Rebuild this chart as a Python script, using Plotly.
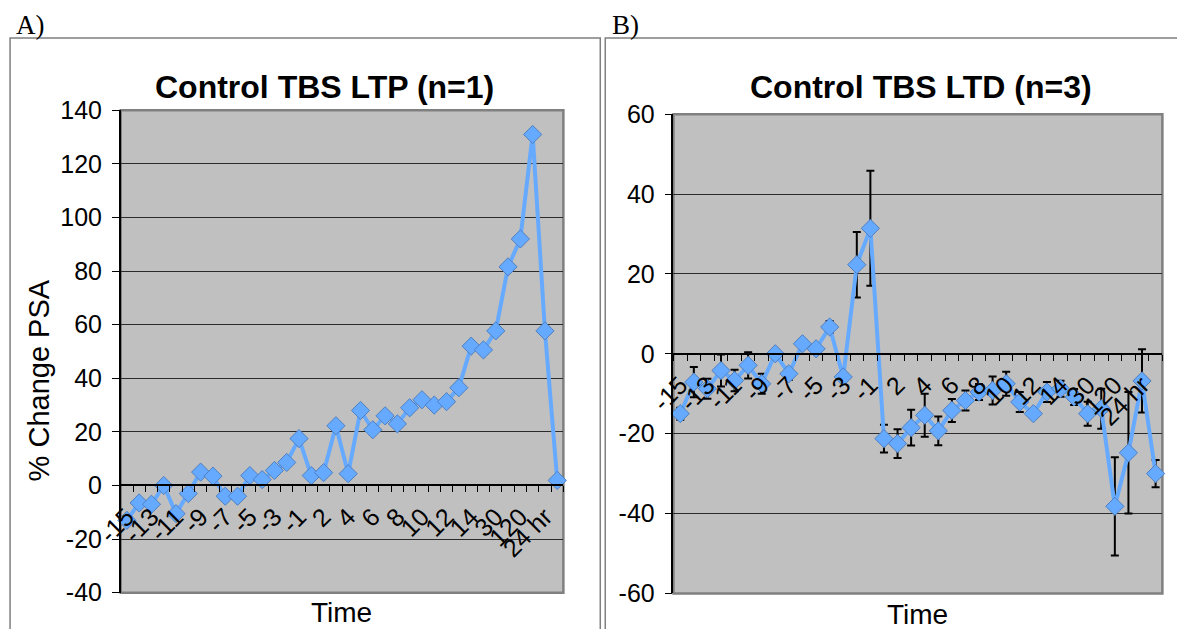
import plotly.graph_objects as go

W, H = 1177, 629

# ---- data ----
categories = ["-15", "-14", "-13", "-12", "-11", "-10", "-9", "-8", "-7", "-6", "-5", "-4", "-3", "-2", "-1",
              "1", "2", "3", "4", "5", "6", "7", "8", "9", "10", "11", "12", "13", "14", "15",
              "30", "60", "120", "180", "24 hr", "48 hr"]

ltp_values = [-13, -6.5, -7, 0, -10.5, -3, 5, 3.5, -4, -4, 3.7, 2.2, 5.6, 8.6, 17.5, 3.7, 4.8, 22.3,
              4.4, 28, 20.8, 26, 23, 29, 32, 30, 31.3, 36.5, 52, 50.6, 57.7, 81.6, 92, 131, 57.7, 1.9]

ltd_values = [-15.0, -7.1, -8.75, -4.2, -6.7, -2.9, -7.5, 0.0, -5.0, 2.5, 1.25, 6.7, -5.8, 22.3, 31.4,
              -21.25, -22.5, -18.5, -15.4, -19.3, -14.2, -11.7, -9.6, -9.2, -7.5, -12.1, -15.0, -9.6,
              -8.75, -10.8, -15.0, -13.75, -38.2, -24.8, -6.8, -30.0]

ltd_errors = [1.5, 3.8, 2.5, 4.0, 2.7, 3.3, 2.5, 1.0, 1.5, 1.0, 1.0, 1.5, 1.0, 8.2, 14.4,
              3.5, 3.6, 4.5, 5.4, 3.6, 2.9, 2.5, 2.0, 3.5, 3.0, 2.5, 1.0, 2.5, 2.0, 2.0,
              3.0, 5.0, 12.3, 15.2, 7.9, 3.4]

ltp_yticks = [-40, -20, 0, 20, 40, 60, 80, 100, 120, 140]
ltd_yticks = [-60, -40, -20, 0, 20, 40, 60]

titles = ["Control TBS LTP (n=1)", "Control TBS LTD (n=3)"]
y_title = "% Change PSA"
x_title = "Time"

# ---- layout helpers: target screen pixel -> paper fraction ----
def px(p):
    return ((p - 22) / 0.98) / W

def py(p):
    return 1 - ((p - 13) / 0.957) / H

FONT = "Liberation Sans, Arial, sans-serif"
SERIF = "Liberation Serif, Times New Roman, serif"
LINE_BLUE = "#66AAFF"
MARK_EDGE = "#4F7FC0"

idx = list(range(len(categories)))
ltp_range = [ltp_yticks[0], ltp_yticks[-1]]
ltd_range = [ltd_yticks[0], ltd_yticks[-1]]

a_xdom = [px(116), px(560)]
a_ydom = [py(592.6), py(109.5)]
b_xdom = [px(670.4), px(1160.8)]
b_ydom = [py(593.3), py(113.3)]

def zero_pos(ydom, yr):
    return ydom[0] + (0 - yr[0]) / (yr[1] - yr[0]) * (ydom[1] - ydom[0])

fig = go.Figure()

fig.add_trace(go.Scatter(
    x=idx, y=ltp_values, mode="lines+markers", xaxis="x", yaxis="y",
    line=dict(color=LINE_BLUE, width=4),
    marker=dict(symbol="diamond", size=14, color=LINE_BLUE, line=dict(color=MARK_EDGE, width=1)),
    showlegend=False, cliponaxis=False,
))

fig.add_trace(go.Scatter(
    x=idx, y=ltd_values, mode="lines+markers", xaxis="x2", yaxis="y2",
    line=dict(color=LINE_BLUE, width=4),
    marker=dict(symbol="diamond", size=14, color=LINE_BLUE, line=dict(color=MARK_EDGE, width=1)),
    error_y=dict(type="data", array=ltd_errors, visible=True, color="black", thickness=2, width=4),
    showlegend=False, cliponaxis=False,
))

tickvals = idx[::2]
ticktext = categories[::2]

def xaxis_cfg(dom, pos):
    return dict(
        domain=dom, anchor="free", position=pos,
        range=[-0.5, len(categories) - 0.5], showgrid=False, zeroline=False,
        showline=True, linecolor="black", linewidth=1.5,
        tickmode="array", tickvals=tickvals, ticktext=ticktext, tickangle=-45,
        ticks="outside", ticklen=6, tickcolor="rgba(0,0,0,0)",
        tickfont=dict(family=FONT, size=25, color="black"),
        minor=dict(tickmode="linear", tick0=-0.5, dtick=1, ticks="outside", ticklen=6,
                   tickcolor="black", tickwidth=1, showgrid=False),
        fixedrange=True,
    )

def yaxis_cfg(dom, yticks, anchor):
    return dict(
        domain=dom, anchor=anchor, range=[yticks[0], yticks[-1]],
        tickmode="array", tickvals=yticks, ticktext=[str(v) for v in yticks],
        showgrid=True, gridcolor="#2b2b2b", gridwidth=1.3, zeroline=False,
        showline=True, linecolor="black", linewidth=1.5,
        ticks="outside", ticklen=7, tickcolor="black", tickwidth=1,
        ticklabelstandoff=5,
        tickfont=dict(family=FONT, size=25, color="black"),
        fixedrange=True,
    )

fig.update_layout(
    width=W, height=H,
    margin=dict(l=0, r=0, t=0, b=0),
    paper_bgcolor="white", plot_bgcolor="#C0C0C0",
    xaxis=xaxis_cfg(a_xdom, zero_pos(a_ydom, ltp_range)),
    yaxis=yaxis_cfg(a_ydom, ltp_yticks, "x"),
    xaxis2=xaxis_cfg(b_xdom, zero_pos(b_ydom, ltd_range)),
    yaxis2=yaxis_cfg(b_ydom, ltd_yticks, "x2"),
)

shapes = [
    # chart area frames
    dict(type="rect", xref="paper", yref="paper", x0=px(5), x1=px(597), y0=py(650), y1=py(37),
         line=dict(color="#7f7f7f", width=1.5), layer="below"),
    dict(type="rect", xref="paper", yref="paper", x0=px(602), x1=px(1190), y0=py(650), y1=py(37),
         line=dict(color="#7f7f7f", width=1.5), layer="below"),
    # plot area borders
    dict(type="rect", xref="x domain", yref="y domain", x0=0, x1=1, y0=0, y1=1,
         line=dict(color="#808080", width=2.5), layer="below"),
    dict(type="rect", xref="x2 domain", yref="y2 domain", x0=0, x1=1, y0=0, y1=1,
         line=dict(color="#808080", width=2.5), layer="below"),
]
fig.update_layout(shapes=shapes)

ann = [
    dict(text="A)", x=px(9), y=py(24), xanchor="left", yanchor="middle",
         font=dict(family=SERIF, size=27, color="black")),
    dict(text="B)", x=px(607), y=py(24), xanchor="left", yanchor="middle",
         font=dict(family=SERIF, size=27, color="black")),
    dict(text="<b>%s</b>" % titles[0], x=px(320), y=py(86), xanchor="center", yanchor="middle",
         font=dict(family=FONT, size=32, color="black")),
    dict(text="<b>%s</b>" % titles[1], x=px(919), y=py(86), xanchor="center", yanchor="middle",
         font=dict(family=FONT, size=32, color="black")),
    dict(text=y_title, x=px(34), y=py(380), xanchor="center", yanchor="middle", textangle=-90,
         font=dict(family=FONT, size=29, color="black")),
    dict(text=x_title, x=px(337), y=py(612), xanchor="center", yanchor="middle",
         font=dict(family=FONT, size=28, color="black")),
    dict(text=x_title, x=px(915), y=py(614), xanchor="center", yanchor="middle",
         font=dict(family=FONT, size=28, color="black")),
]
for a in ann:
    a.update(xref="paper", yref="paper", showarrow=False)
fig.update_layout(annotations=ann)

fig.write_html("out.html")
